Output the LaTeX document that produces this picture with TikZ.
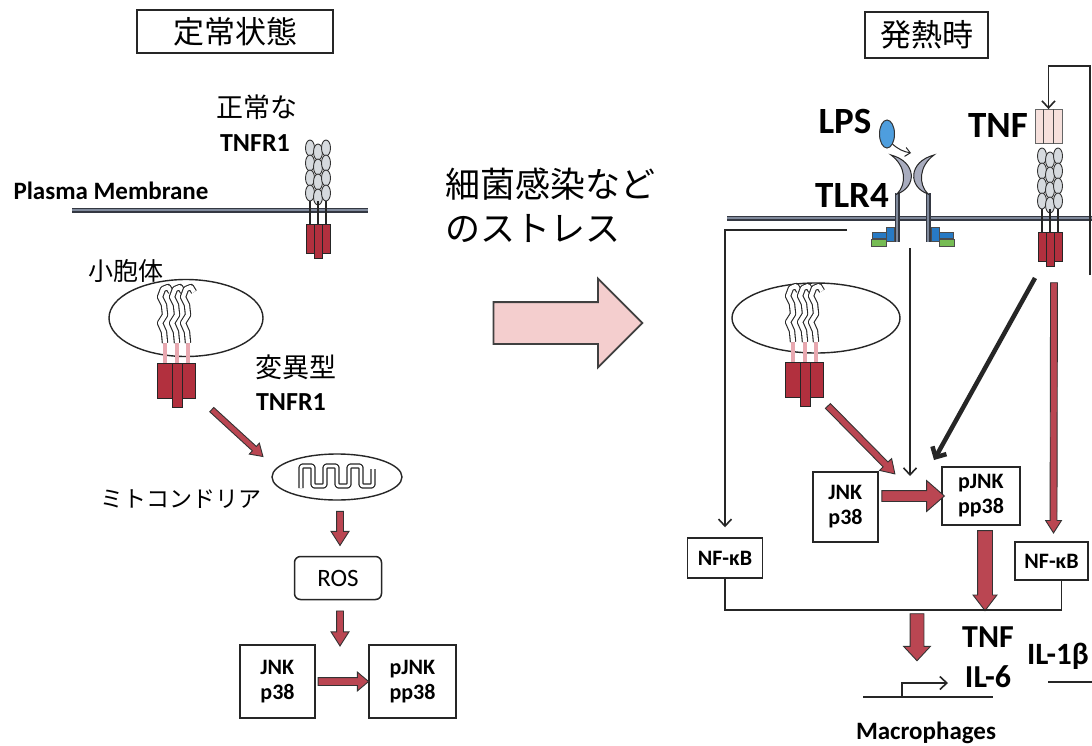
\documentclass[tikz,border=0pt]{standalone}
\usepackage{fontspec}
\setmainfont{Carlito}
\newfontfamily\jpfont{Noto Sans CJK JP}
\usetikzlibrary{arrows.meta,shapes.arrows,shapes.geometric,calc}

% colours
\definecolor{tmred}{RGB}{178,48,62}
\definecolor{arrred}{RGB}{186,70,82}
\definecolor{stresspink}{RGB}{244,206,206}
\definecolor{memdark}{RGB}{52,56,66}
\definecolor{memgray}{RGB}{128,138,156}
\definecolor{crdgray}{RGB}{214,218,222}
\definecolor{tlrgray}{RGB}{168,172,190}
\definecolor{lpsblue}{RGB}{78,158,222}
\definecolor{tirblue}{RGB}{40,122,196}
\definecolor{tirgreen}{RGB}{118,188,84}
\definecolor{ligpink}{RGB}{246,224,220}
\definecolor{stempink}{RGB}{232,168,176}

\tikzset{
  lbl/.style={font=\bfseries\fontsize{#1}{#1}\selectfont, inner sep=0pt},
  jp/.style={font=\jpfont\fontsize{#1}{#1}\selectfont, inner sep=0pt},
  boxtxt/.style={font=\bfseries\fontsize{22}{25}\selectfont, align=left},
  titlebox/.style={draw=black!85, line width=1.8pt},
  box/.style={draw=black!85, line width=1.5pt, fill=white, inner sep=0pt},
  organelle/.style={draw=black!85, ellipse, line width=1.4pt, inner sep=0pt},
  membrane/.style={draw=memdark, double=memgray, double distance=2.2pt, line width=1.4pt},
  crd/.style={draw=black!80, fill=crdgray, line width=0.9pt},
  tmstem/.style={draw=black!85, line width=2pt},
  tmbox/.style={draw=black!85, fill=tmred, line width=0.9pt},
  ribbon/.style={draw=black!85, double=white, double distance=4.2pt, line width=1.1pt, line join=round},
  stalk/.style={draw=stempink, line width=4pt},
  cristae/.style={draw=black!85, double=white, double distance=2.8pt, line width=1.3pt, line join=round, rounded corners=2pt},
  tlrarm/.style={draw=black!85, fill=tlrgray, line width=1pt},
  tir/.style={draw=black!70, line width=0.6pt},
  ligand/.style={draw=black!60, fill=ligpink, line width=0.9pt, inner sep=0pt},
  lpsmol/.style={draw=black!80, fill=lpsblue, ellipse, line width=1pt, inner sep=0pt},
  link/.style={draw=black!85, line width=1.6pt},
  linkarr/.style={link, -{Straight Barb[length=7pt,width=13pt]}},
  boldarr/.style={draw=black!85, line width=4.5pt, -{Straight Barb[length=8pt,width=16pt]}},
  redarrow/.style={single arrow, draw=black!80, fill=arrred, line width=0.9pt,
    inner xsep=0pt, minimum width=0pt, outer sep=0pt, fat={6}{15},
    single arrow head indent=0pt, single arrow tip angle=65},
  % shaft width, head width
  fat/.style 2 args={inner ysep=#1/2, single arrow head extend={(#2-#1)/2}},
  stressarrow/.style={single arrow, draw=black!75, fill=stresspink, line width=1.8pt,
    inner xsep=0pt, minimum width=0pt, minimum height=149pt, fat={40}{87},
    single arrow head indent=0pt, single arrow tip angle=90},
  % TNFR1 sitting in a membrane, origin on the membrane
  tnfr/.pic={
    \foreach \dx/\s in {-8/0,0/4,8/0}{
      \foreach \dy in {-62,-47,-32,-17}
        \draw[crd] (\dx,\dy+\s) ellipse (4.5pt and 8pt);
      \draw[tmstem] (\dx,-9) -- (\dx,14);
    }
    \draw[tmbox] (-12,14) rectangle (-4,43);
    \draw[tmbox] (4,14) rectangle (12,43);
    \draw[tmbox] (-4,14) rectangle (4,48);
  },
  % misfolded TNFR1, origin on top of the red blocks
  mutant/.pic={
    \foreach \dx in {-12,0,11}{
      \draw[stalk] (\dx,-20) -- (\dx,0);
      \draw[ribbon] (\dx,-20) -- (\dx-1,-31) -- (\dx-5,-40) -- (\dx,-48) -- (\dx-1,-58)
        -- (\dx-5,-66) -- (\dx-2,-74) -- (\dx+3,-76) -- (\dx+6,-71);
    }
    \draw[tmbox] (-20,0) rectangle (-5,35);
    \draw[tmbox] (5,0) rectangle (18,35);
    \draw[tmbox] (-5,0) rectangle (5,44);
  }
}

% block arrow from #2 to #3
\newcommand\fatarrow[3][]{%
  \path let \p1=#2, \p2=#3, \n1={atan2(\y2-\y1,\x2-\x1)}, \n2={veclen(\x2-\x1,\y2-\y1)} in
    node[redarrow, #1, rotate=\n1, minimum height=\n2] at ($(\p1)!.5!(\p2)$) {};}

\begin{document}
\begin{tikzpicture}[x=1pt,y=-1pt]
  \fill[white] (0,0) rectangle (1092,745);
  \useasboundingbox (0,0) rectangle (1092,745);

  % ---------------- steady state ----------------
  \node[titlebox, jp=31, minimum width=196pt, minimum height=43pt] (steady) at (235,31.5) {定常状態};
  \node[jp=27] (normal) at (257,107.5) {正常な};
  \node[lbl=26] (tnfrA) at (255,143) {TNFR1};
  \node[lbl=25] (pmlabel) at (111,191) {Plasma Membrane};

  % Drawing membrane and receptor
  \draw[membrane] (72,210) -- (368,210);
  \pic at (318,210) {tnfr};

  % Drawing vesicle with mutant receptor
  \node[jp=25] (vesA) at (126,271) {小胞体};
  \node[organelle, minimum width=154pt, minimum height=77pt] (vesselA) at (186,318) {};
  \pic at (177,363) {mutant};
  \node[jp=27] (variant) at (296,367) {変異型};
  \node[lbl=26] (tnfrB) at (291,402) {TNFR1};

  % Drawing mitochondrion
  \node[organelle, minimum width=130pt, minimum height=46pt] (mito) at (337,477) {};
  \draw[cristae] (301,488) -- (301,466) -- (313,466) -- (313,486) -- (325,486) -- (325,466)
    -- (337,466) -- (337,486) -- (349,486) -- (349,466) -- (361,466) -- (361,486)
    -- (373,486) -- (373,469);
  \node[jp=23] (mitolabel) at (181,499) {ミトコンドリア};

  \node[box, rounded corners=6pt, minimum width=87pt, minimum height=43pt,
    font=\fontsize{25}{25}\selectfont] (ros) at (338,578) {ROS};
  \node[box, boxtxt, minimum width=75pt, minimum height=73pt] (jnkA) at (277.5,681.5) {JNK\\p38};
  \node[box, boxtxt, minimum width=87pt, minimum height=73pt] (pjnkA) at (412.5,681.5) {pJNK\\pp38};

  \coordinate (mutA) at (210,408);
  \fatarrow[fat={5}{14}]{(mutA)}{($(mito.west)+(-10,-22)$)}
  \fatarrow[fat={6}{17}]{($(mito.south)+(3,8)$)}{($(ros.north)+(2,-13)$)}
  \fatarrow[fat={6}{17}]{($(ros.south)+(2,8)$)}{($(ros.south)+(2,43)$)}
  \fatarrow[fat={7}{18}, single arrow tip angle=80]{(jnkA.east)}{($(pjnkA.west)+(-2,0)$)}

  % ---------------- stress ----------------
  \node[anchor=west, align=left, inner sep=0pt, font=\jpfont\fontsize{35}{44}\selectfont]
    (stress) at (445,205) {細菌感染など\\のストレス};
  \node[stressarrow] (stressarr) at (557.5,323) {};

  % ---------------- fever ----------------
  \node[titlebox, jp=31, minimum width=123pt, minimum height=46pt] (fever) at (926.5,35) {発熱時};

  % Drawing membrane
  \draw[membrane] (727,218) -- (1096,218);

  % Drawing TLR4 with LPS
  \draw[membrane] (897,193) -- (897,242);
  \draw[membrane] (928,193) -- (928,242);
  \draw[tlrarm] (891,155) .. controls (917,162) and (917,187) .. (897,194)
    .. controls (907,184) and (906,166) .. cycle;
  \draw[tlrarm] (934,155) .. controls (908,162) and (908,187) .. (928,194)
    .. controls (918,184) and (919,166) .. cycle;
  \draw[tir, fill=tirblue] (886,227) rectangle (894,241);
  \draw[tir, fill=tirblue] (872,232) rectangle (886,238);
  \draw[tir, fill=tirgreen] (871,239) rectangle (886,246);
  \draw[tir, fill=tirblue] (931,227) rectangle (939,241);
  \draw[tir, fill=tirblue] (939,232) rectangle (953,238);
  \draw[tir, fill=tirgreen] (939,239) rectangle (954,246);
  \node[lpsmol, minimum width=15pt, minimum height=28pt] (lps) at (887,134) {};
  \coordinate (tlrtop) at (911,153);
  \draw[link, line width=1pt, -{Straight Barb[length=5pt,width=9pt]}] (lps.south east) to[bend right=15] (tlrtop);
  \node[lbl=37] (lpslabel) at (845,121.5) {LPS};
  \node[lbl=37] (tlrlabel) at (852,195) {TLR4};

  % Drawing TNF and its receptor
  \node[lbl=37] (tnflabel) at (998,125.5) {TNF};
  \node[ligand, minimum width=27pt, minimum height=34pt] (tnfl) at (1048.5,126.5) {};
  \draw[tir] ($(tnfl.north)+(-5,0)$) -- ($(tnfl.south)+(-5,0)$);
  \draw[tir] ($(tnfl.north)+(5,0)$) -- ($(tnfl.south)+(5,0)$);
  \coordinate (fbtail) at (1090,275);
  \draw[linkarr] (fbtail) |- ($(tnfl.north)+(0,-43)$) -- (tnfl.north);
  \pic at (1050,218) {tnfr};

  % Drawing vesicle with mutant receptor
  \node[organelle, minimum width=168pt, minimum height=70pt] (vesselB) at (816,318) {};
  \pic at (805,362) {mutant};

  \node[box, boxtxt, minimum width=65pt, minimum height=70pt] (jnkB) at (845.5,507) {JNK\\p38};
  \node[box, boxtxt, minimum width=78pt, minimum height=58pt] (pjnkB) at (981,496) {pJNK\\pp38};
  \node[box, lbl=22, minimum width=75pt, minimum height=40pt] (nfA) at (725,558) {NF-κB};
  \node[box, lbl=22, minimum width=73pt, minimum height=38pt] (nfB) at (1051.5,561) {NF-κB};

  % Drawing signals from the receptors
  \coordinate (tlrleft) at (847,230);
  \coordinate (tlrbase) at (910,248);
  \coordinate (hub) at (910,476);
  \coordinate (hubL) at (893,472);
  \coordinate (hubR) at (934,460);
  \coordinate (tnfA) at (1035,278);
  \coordinate (tnfB) at (1054,280);
  \coordinate (mutB) at (826,404);
  \draw[linkarr, shorten >=10pt] (tlrleft) -| (nfA.north);
  \draw[linkarr] (tlrbase) -- (hub);
  \draw[boldarr] (tnfA) -- (hubR);
  \fatarrow[fat={6}{15}]{(tnfB)}{($(nfB.north)+(2,-11)$)}
  \fatarrow[fat={6}{16}]{(mutB)}{(hubL)}
  \fatarrow[fat={10}{30}, single arrow tip angle=82]{(jnkB.east |- pjnkB.west)}{(pjnkB.west)}
  \fatarrow[fat={14}{23}, single arrow tip angle=75]{($(pjnkB.south)+(4,0)$)}{($(pjnkB.south)+(4,80)$)}

  % Drawing cytokine genes
  \coordinate (merge) at (917,610);
  \draw[link] (nfA.south) |- (merge) -| ($(nfB.south)+(10,0)$);
  \fatarrow[fat={13}{26}, single arrow tip angle=86]{(merge)}{($(merge)+(0,47)$)}
  \coordinate (geneA) at (863,697);
  \coordinate (geneB) at (993,697);
  \coordinate (tss) at (902,697);
  \coordinate (tssend) at (948,683);
  \coordinate (ilgeneA) at (1048,682);
  \coordinate (ilgeneB) at (1096,682);
  \draw[link] (geneA) -- (geneB);
  \draw[linkarr] (tss) |- (tssend);
  \draw[link] (ilgeneA) -- (ilgeneB);
  \node[lbl=32] (tnfout) at (988,637.5) {TNF};
  \node[lbl=32] (il6) at (988,677) {IL-6};
  \node[lbl=31, anchor=west] (il1b) at (1027,656) {IL-1β};
  \node[lbl=25] (macro) at (926,733) {Macrophages};
\end{tikzpicture}
\end{document}
